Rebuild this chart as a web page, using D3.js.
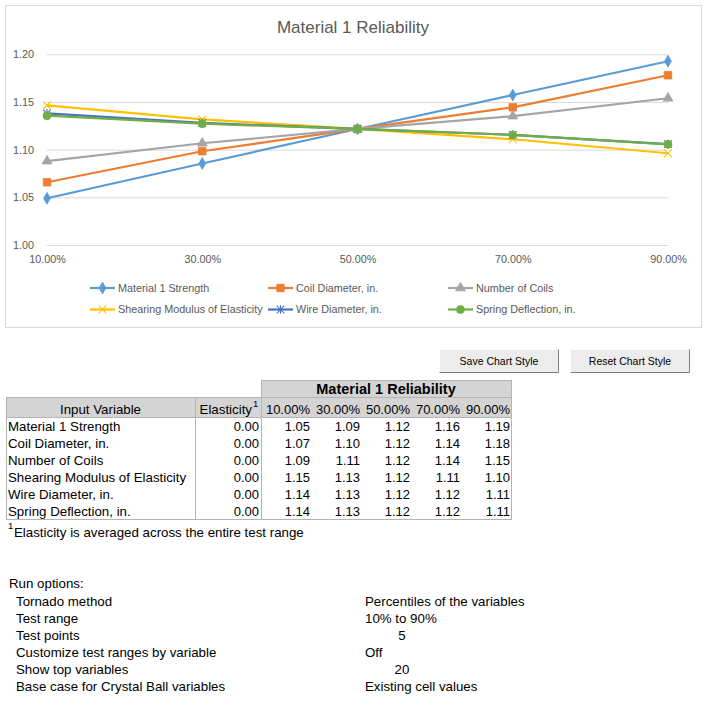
<!DOCTYPE html>
<html>
<head>
<meta charset="utf-8">
<script src="https://cdn.jsdelivr.net/npm/d3@7"></script>
<style>
  body { margin: 0; background: #fff; }
  svg { display: block; }
</style>
</head>
<body>
<div id="chart"></div>
<script>
// chart data
var testPoints = ["10.00%", "30.00%", "50.00%", "70.00%", "90.00%"];
var variableNames = ["Material 1 Strength", "Coil Diameter, in.", "Number of Coils",
                     "Shearing Modulus of Elasticity", "Wire Diameter, in.", "Spring Deflection, in."];
var material1Strength = [1.049, 1.0855, 1.1217, 1.1573, 1.1927];
var coilDiameter      = [1.0658, 1.0983, 1.1217, 1.1444, 1.178];
var numberOfCoils     = [1.088, 1.1067, 1.1217, 1.1352, 1.1539];
var shearingModulus   = [1.1465, 1.1318, 1.1217, 1.1109, 1.0962];
var wireDiameter      = [1.138, 1.128, 1.1217, 1.1155, 1.1058];
var springDeflection  = [1.1356, 1.1272, 1.1217, 1.1155, 1.1056];
var elasticity        = [0, 0, 0, 0, 0, 0];
var yTicks = [1.00, 1.05, 1.10, 1.15, 1.20];

// run options
var runOptionLabels = ["Tornado method", "Test range", "Test points",
                       "Customize test ranges by variable", "Show top variables",
                       "Base case for Crystal Ball variables"];
var runOptionValues = ["Percentiles of the variables", "10% to 90%", "5", "Off", "20", "Existing cell values"];

var seriesValues = [material1Strength, coilDiameter, numberOfCoils, shearingModulus, wireDiameter, springDeflection];
var colors = ["#5B9BD5", "#ED7D31", "#A5A5A5", "#FFC000", "#4472C4", "#70AD47"];
var markers = ["diamond", "square", "triangle", "x", "star", "circle"];

var series = variableNames.map(function(name, i) {
    return { name: name, values: seriesValues[i], color: colors[i], marker: markers[i] };
});

var width = 710, height = 705;
var chartFont = "'Liberation Sans', Arial, sans-serif";
var tableFont = "'Liberation Sans', Arial, sans-serif";

var svg = d3.select("#chart").append("svg")
    .attr("width", width)
    .attr("height", height);

// chart area border
svg.append("rect")
    .attr("x", 5.5).attr("y", 5.5)
    .attr("width", 696).attr("height", 322)
    .attr("fill", "#fff")
    .attr("stroke", "#d9d9d9");

svg.append("text")
    .attr("x", 353).attr("y", 33)
    .attr("text-anchor", "middle")
    .attr("font-family", chartFont)
    .attr("font-size", 17)
    .attr("fill", "#595959")
    .text("Material 1 Reliability");

var plot = { left: 47, right: 668, top: 54.3, bottom: 245 };

var x = d3.scalePoint().domain(testPoints).range([plot.left, plot.right]);
var y = d3.scaleLinear().domain([1.0, 1.2]).range([plot.bottom, plot.top]);

var yAxis = svg.append("g")
    .attr("transform", "translate(" + plot.left + ",0)")
    .call(d3.axisLeft(y).tickValues(yTicks).tickFormat(d3.format(".2f"))
        .tickSize(-(plot.right - plot.left)).tickPadding(13));
yAxis.select(".domain").remove();
yAxis.selectAll("line").attr("stroke", "#d9d9d9");
yAxis.selectAll("text")
    .attr("font-family", chartFont).attr("font-size", 10.8)
    .attr("fill", "#595959");

var xAxis = svg.append("g")
    .attr("transform", "translate(0," + plot.bottom + ")")
    .call(d3.axisBottom(x).tickSize(0).tickPadding(10));
xAxis.select(".domain").remove();
xAxis.selectAll("text")
    .attr("font-family", chartFont).attr("font-size", 10.8)
    .attr("fill", "#595959");

function markerPath(type) {
    if (type === "diamond") return d3.symbol().type(d3.symbolDiamond).size(40)();
    if (type === "square") return d3.symbol().type(d3.symbolSquare).size(56)();
    if (type === "triangle") return d3.symbol().type(d3.symbolTriangle).size(42)();
    if (type === "circle") return d3.symbol().type(d3.symbolCircle).size(50)();
    if (type === "x") return "M-3.8,-3.8L3.8,3.8M-3.8,3.8L3.8,-3.8";
    return "M-3.8,-3.8L3.8,3.8M-3.8,3.8L3.8,-3.8M0,-4.3V4.3";
}

function drawMarker(g, s) {
    var stroked = s.marker === "x" || s.marker === "star";
    g.append("path")
        .attr("d", markerPath(s.marker))
        .attr("fill", stroked ? "none" : s.color)
        .attr("stroke", s.color)
        .attr("stroke-width", stroked ? 1.1 : 0.8);
}

var line = d3.line()
    .x(function(d, i) { return x(testPoints[i]); })
    .y(function(d) { return y(d); });

series.forEach(function(s) {
    var g = svg.append("g");
    g.append("path")
        .attr("d", line(s.values))
        .attr("fill", "none")
        .attr("stroke", s.color)
        .attr("stroke-width", 2.2);
    s.values.forEach(function(v, i) {
        var m = g.append("g").attr("transform", "translate(" + x(testPoints[i]) + "," + y(v) + ")");
        drawMarker(m, s);
    });
});

// legend
var legendPos = [[90, 288], [268, 288], [448, 288], [90, 309.5], [268, 309.5], [448, 309.5]];
series.forEach(function(s, i) {
    var g = svg.append("g").attr("transform", "translate(" + legendPos[i][0] + "," + legendPos[i][1] + ")");
    g.append("line").attr("x1", 0).attr("x2", 25).attr("stroke", s.color).attr("stroke-width", 2.2);
    var m = g.append("g").attr("transform", "translate(12.5,0)");
    drawMarker(m, s);
    g.append("text")
        .attr("x", 28).attr("y", 3.8)
        .attr("font-family", chartFont).attr("font-size", 10.8)
        .attr("fill", "#595959")
        .text(s.name);
});

// buttons
var buttons = [{ label: "Save Chart Style", x: 439, w: 120 }, { label: "Reset Chart Style", x: 570, w: 120 }];
buttons.forEach(function(b) {
    var g = svg.append("g").attr("transform", "translate(" + b.x + ",349)");
    g.append("rect").attr("width", b.w).attr("height", 24).attr("fill", "#ececec");
    g.append("path").attr("d", "M0.5,23.5V0.5H" + (b.w - 0.5)).attr("fill", "none").attr("stroke", "#fff");
    g.append("path").attr("d", "M0.5,23.5H" + (b.w - 0.5) + "V0.5").attr("fill", "none").attr("stroke", "#808080");
    g.append("text")
        .attr("x", b.w / 2).attr("y", 16)
        .attr("text-anchor", "middle")
        .attr("font-family", tableFont).attr("font-size", 10.5)
        .attr("fill", "#000")
        .text(b.label);
});

// table
var tbl = { left: 6, nameRight: 195, elasRight: 261, colW: 50, top: 380, h1: 17, h2: 20, rowH: 17 };
var tblRight = tbl.elasRight + testPoints.length * tbl.colW;
var headTop2 = tbl.top + tbl.h1;
var bodyTop = headTop2 + tbl.h2;
var bodyBottom = bodyTop + variableNames.length * tbl.rowH;
var grayFill = "#d4d4d4", gridStroke = "#b4b4b4";

svg.append("rect")
    .attr("x", tbl.elasRight + 0.5).attr("y", tbl.top + 0.5)
    .attr("width", tblRight - tbl.elasRight).attr("height", tbl.h1)
    .attr("fill", grayFill).attr("stroke", gridStroke);
svg.append("rect")
    .attr("x", tbl.left + 0.5).attr("y", headTop2 + 0.5)
    .attr("width", tblRight - tbl.left).attr("height", tbl.h2)
    .attr("fill", grayFill).attr("stroke", gridStroke);
svg.append("rect")
    .attr("x", tbl.left + 0.5).attr("y", bodyTop + 0.5)
    .attr("width", tblRight - tbl.left).attr("height", bodyBottom - bodyTop)
    .attr("fill", "#fff").attr("stroke", gridStroke);
[tbl.nameRight, tbl.elasRight].forEach(function(xx) {
    svg.append("line")
        .attr("x1", xx + 0.5).attr("x2", xx + 0.5)
        .attr("y1", headTop2).attr("y2", bodyBottom)
        .attr("stroke", gridStroke);
});

function tableText(tx, ty, str, anchor, weight, size) {
    return svg.append("text")
        .attr("x", tx).attr("y", ty)
        .attr("text-anchor", anchor || "start")
        .attr("font-family", tableFont)
        .attr("font-size", size || 13.3)
        .attr("font-weight", weight || "normal")
        .attr("fill", "#000")
        .text(str);
}

tableText((tbl.elasRight + tblRight) / 2, tbl.top + 14, "Material 1 Reliability", "middle", "bold", 14.5);
tableText((tbl.left + tbl.nameRight) / 2, headTop2 + 17, "Input Variable", "middle");
tableText(tbl.elasRight - 9, headTop2 + 17, "Elasticity", "end");
tableText(tbl.elasRight - 8, headTop2 + 10, "1", "start", "normal", 9.5);
testPoints.forEach(function(p, j) {
    tableText(tbl.elasRight + (j + 1) * tbl.colW - 1, headTop2 + 17, p, "end", "normal", 13);
});

var fmt = d3.format(".2f");
variableNames.forEach(function(name, i) {
    var ty = bodyTop + i * tbl.rowH + 14;
    tableText(tbl.left + 2, ty, name);
    tableText(tbl.elasRight - 2, ty, fmt(elasticity[i]), "end", "normal", 13);
    seriesValues[i].forEach(function(v, j) {
        tableText(tbl.elasRight + (j + 1) * tbl.colW - 1, ty, fmt(v), "end", "normal", 13);
    });
});

// footnote
tableText(8, bodyBottom + 10, "1", "start", "normal", 9.5);
tableText(14, bodyBottom + 18, "Elasticity is averaged across the entire test range");

// run options
tableText(9, 588, "Run options:");
runOptionLabels.forEach(function(label, i) {
    var ty = 606 + i * 17;
    tableText(16, ty, label);
    var val = runOptionValues[i];
    if (/^\d+$/.test(val)) {
        tableText(402, ty, val, "middle");
    } else {
        tableText(365, ty, val);
    }
});
</script>
</body>
</html>
